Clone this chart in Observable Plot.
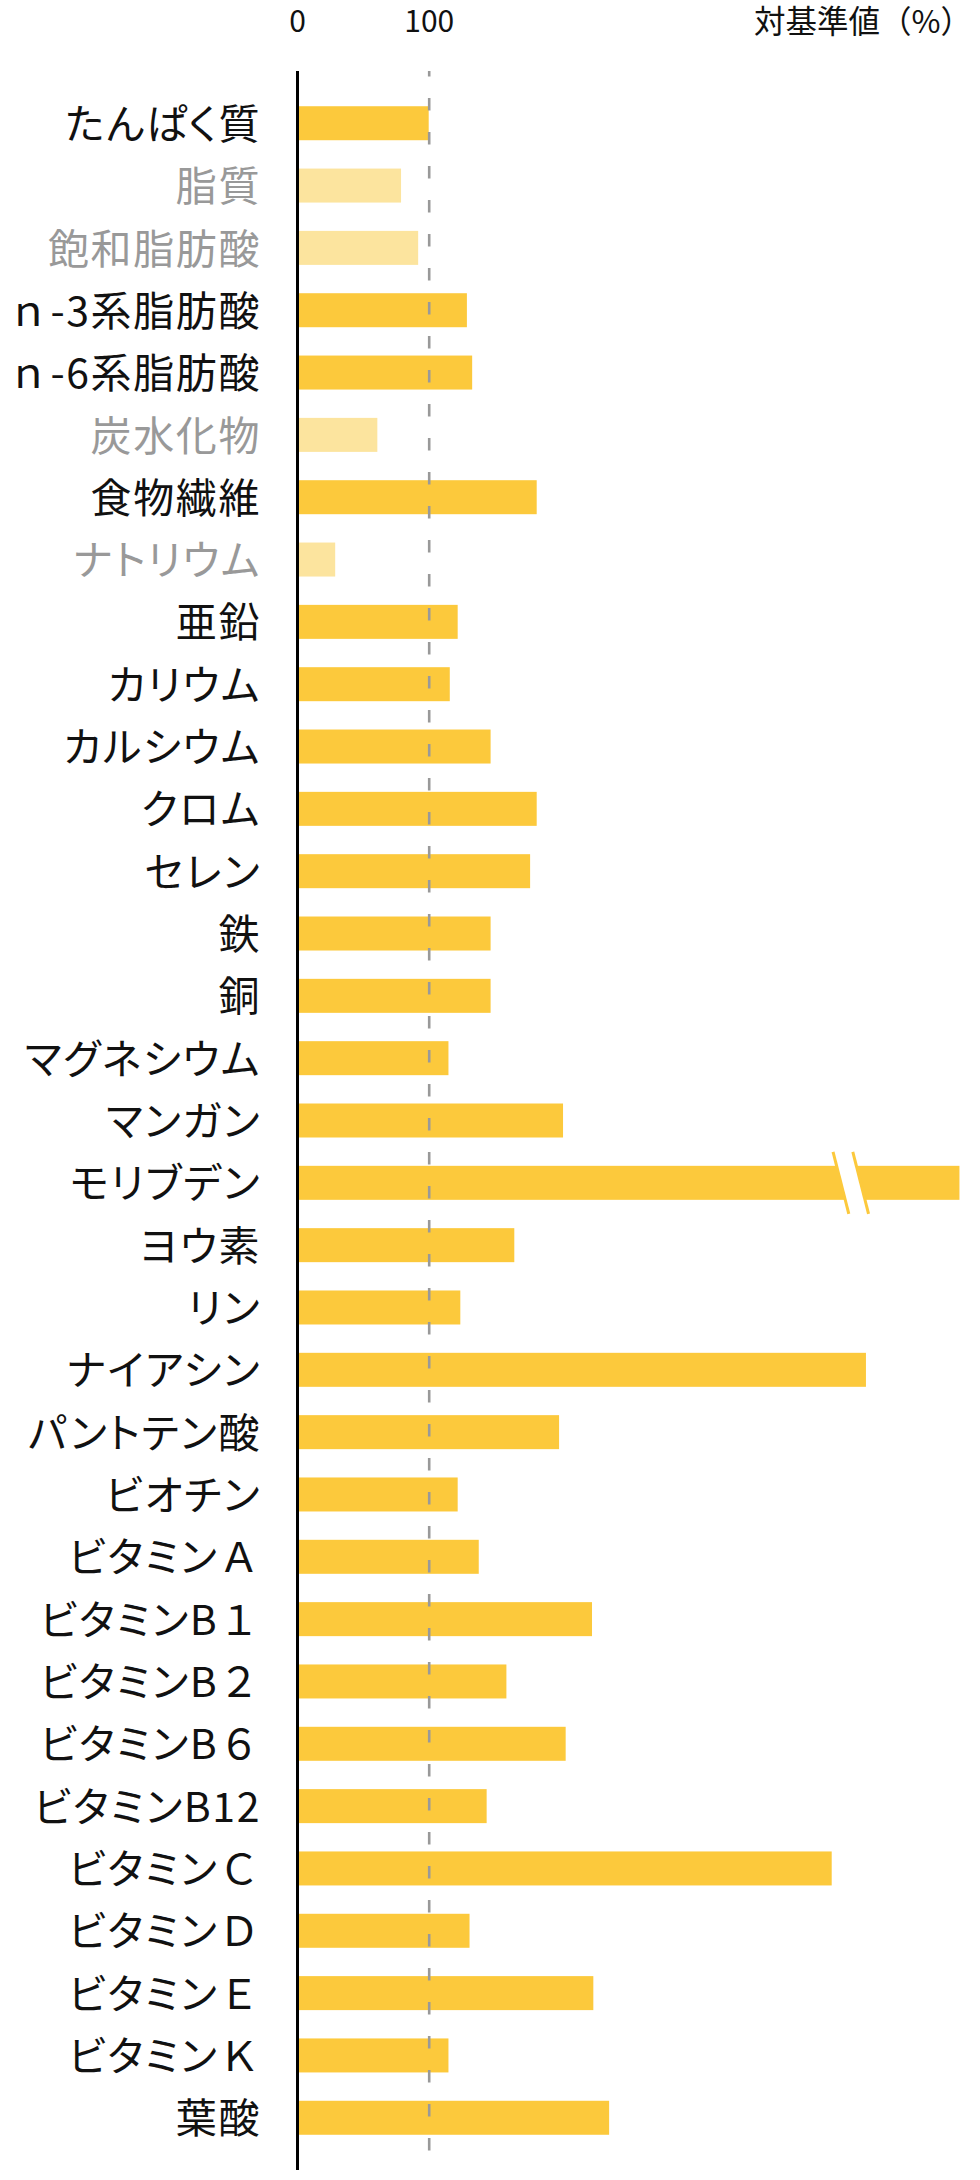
<!DOCTYPE html>
<html>
<head>
<meta charset="utf-8">
<script src="https://cdn.jsdelivr.net/npm/d3@7"></script>
<script src="https://cdn.jsdelivr.net/npm/@observablehq/plot@0.6"></script>
<style>
  html, body { margin: 0; padding: 0; background: #fff; }
  #chart svg { display: block; }
  .ylabels text { font-feature-settings: "palt" 1; letter-spacing: 1.6px; }
  .ylabels tspan.fw { font-feature-settings: normal; }
</style>
</head>
<body>
<div id="chart"></div>
<script>
// ---- data ----
const nutrients = ["たんぱく質","脂質","飽和脂肪酸","ｎ-3系脂肪酸","ｎ-6系脂肪酸","炭水化物","食物繊維","ナトリウム","亜鉛","カリウム","カルシウム","クロム","セレン","鉄","銅","マグネシウム","マンガン","モリブデン","ヨウ素","リン","ナイアシン","パントテン酸","ビオチン","ビタミンＡ","ビタミンB１","ビタミンB２","ビタミンB６","ビタミンB12","ビタミンＣ","ビタミンＤ","ビタミンＥ","ビタミンＫ","葉酸"];
const percentOfStandard = [100,79,92,129,133,61,182,29,122,116,147,182,177,147,147,115,202,503,165,124,432,199,122,138,224,159,204,144,406,131,225,115,237];
const mutedNutrients = ["脂質","飽和脂肪酸","炭水化物","ナトリウム"];
const brokenNutrients = ["モリブデン"];   // bar truncated with a break symbol
const breakAt = [413, 428];               // break gap, in axis units
const xTicks = [0, 100];
const referenceLine = 100;
const axisTitle = "対基準値（%）";

// ---- build table ----
const rows = nutrients.map((name, i) => ({name, value: percentOfStandard[i], muted: mutedNutrients.includes(name)}));

const MAIN = "#FCC93C", PALE = "#FCE49E", INK = "#111", GREY = "#999";
const FONT = "'Noto Sans CJK JP', 'Noto Sans CJK SC', sans-serif";

const breakMark = (index, scales) => {
  const {x, y} = scales;
  const g = d3.create("svg:g");
  const bw = y.bandwidth ? y.bandwidth() : 34;
  for (const name of brokenNutrients) {
    const cy = y(name) + bw / 2;
    const xa = x(breakAt[0]), xb = x(breakAt[1]);
    const h = bw / 2 + 14, s = 7.75 * h / 30.5;
    g.append("path")
      .attr("d", `M${xa - s},${cy - h}L${xb - s},${cy - h}L${xb + s},${cy + h}L${xa + s},${cy + h}Z`)
      .attr("fill", "#fff");
    for (const xv of [xa, xb]) {
      g.append("line")
        .attr("x1", xv - s).attr("y1", cy - h)
        .attr("x2", xv + s).attr("y2", cy + h)
        .attr("stroke", MAIN).attr("stroke-width", 3);
    }
  }
  return g.node();
};

const chart = Plot.plot({
  width: 980,
  height: 2180,
  marginTop: 71,
  marginBottom: 10,
  marginLeft: 297,
  marginRight: 24.5,
  style: {fontFamily: FONT, background: "#fff"},
  x: {domain: [0, 500], axis: null},
  y: {type: "band", domain: nutrients, range: [77.9, 2163.1], padding: 0.4545, round: false, axis: null},
  marks: [
    Plot.barX(rows, {y: "name", x: "value", fill: d => d.muted ? PALE : MAIN}),
    breakMark,
    Plot.ruleX([referenceLine], {stroke: GREY, strokeWidth: 2.6, strokeDasharray: "12.5,21.5", strokeDashoffset: 7}),
    Plot.ruleX([0], {stroke: "#000", strokeWidth: 3}),
    Plot.text(rows, {
      x: () => 0, y: "name", text: "name", textAnchor: "end", dx: -36.5, dy: 2,
      fill: d => d.muted ? GREY : INK, fontSize: 41, className: "ylabels"
    }),
    Plot.text(xTicks, {
      x: d => d, frameAnchor: "top", lineAnchor: "bottom", dy: -40,
      text: d => String(d), fill: INK, fontSize: 30, textAnchor: "middle"
    }),
    Plot.text([axisTitle], {
      frameAnchor: "top-right", lineAnchor: "bottom", dy: -39, dx: 16,
      text: d => d, textAnchor: "end", fill: INK, fontSize: 31.5
    })
  ]
});

// keep full-width Latin letters/digits at their full width (no proportional alternates)
d3.select(chart).selectAll("g.ylabels text").each(function () {
  const sel = d3.select(this);
  const t = this.textContent;
  const oldSpan = this.querySelector("tspan");
  const spanDy = oldSpan ? oldSpan.getAttribute("dy") : null;
  const spanX = oldSpan ? oldSpan.getAttribute("x") : null;
  sel.text(null);
  const runs = t.match(/[\uFF01-\uFF5E]+|[^\uFF01-\uFF5E]+/g) || [];
  runs.forEach((r, i) => {
    const sp = sel.append("tspan").text(r);
    if (/[\uFF01-\uFF5E]/.test(r)) sp.attr("class", "fw");
    if (i === 0) {
      if (spanDy) sp.attr("dy", spanDy);
      if (spanX) sp.attr("x", spanX);
    }
  });
});

document.getElementById("chart").appendChild(chart);
</script>
</body>
</html>
